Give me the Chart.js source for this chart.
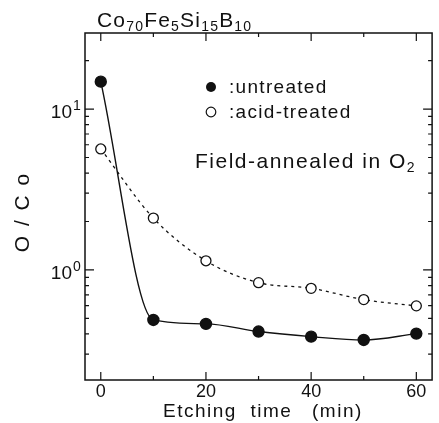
<!DOCTYPE html>
<html>
<head>
<meta charset="utf-8">
<script src="https://cdn.jsdelivr.net/npm/chart.js@4.4.0/dist/chart.umd.min.js"></script>
<style>
  html, body { margin: 0; padding: 0; background: #fff; }
  #wrap { width: 439px; height: 423px; position: relative; }
</style>
</head>
<body>
<div id="wrap"><canvas id="grafico"></canvas></div>
<script>
// values
const etchTimes = [0, 10, 20, 30, 40, 50, 60];
const untreated = [14.8, 0.489, 0.462, 0.414, 0.385, 0.367, 0.402];
const acidTreated = [5.65, 2.10, 1.14, 0.834, 0.769, 0.654, 0.598];
const xTickLabels = [0, 20, 40, 60];
const xMinorTicks = [10, 30, 50];
const yDecades = [0, 1];
const legendLabels = [':untreated', ':acid-treated'];

const ink = '#111';
const fontFam = '"Liberation Sans", Arial, sans-serif';

function pares(xs, ys) {
    return xs.map((x, i) => ({ x: x, y: ys[i] }));
}

// frame, ticks and all the text
const marco = {
    id: 'marco',
    afterDraw(chart) {
        const ctx = chart.ctx;
        const a = chart.chartArea;
        const sx = chart.scales.x;
        const sy = chart.scales.y;
        ctx.save();
        ctx.strokeStyle = ink;
        ctx.fillStyle = ink;
        ctx.lineWidth = 1.5;
        ctx.strokeRect(a.left, a.top, a.right - a.left, a.bottom - a.top);

        ctx.lineWidth = 1.2;
        ctx.beginPath();
        xTickLabels.concat(xMinorTicks).forEach(v => {
            const px = sx.getPixelForValue(v);
            const len = xTickLabels.includes(v) ? 8 : 4;
            ctx.moveTo(px, a.bottom); ctx.lineTo(px, a.bottom - len);
            ctx.moveTo(px, a.top); ctx.lineTo(px, a.top + len);
        });
        for (let d = -1; d <= 1; d++) {
            for (let m = 1; m <= 9; m++) {
                const v = m * Math.pow(10, d);
                if (v < sy.min || v > sy.max) continue;
                const py = sy.getPixelForValue(v);
                const len = m === 1 ? 9 : 4;
                ctx.moveTo(a.left, py); ctx.lineTo(a.left + len, py);
                ctx.moveTo(a.right, py); ctx.lineTo(a.right - len, py);
            }
        }
        ctx.stroke();

        // x tick labels
        ctx.font = '18px ' + fontFam;
        ctx.textAlign = 'center';
        ctx.textBaseline = 'alphabetic';
        xTickLabels.forEach(v => {
            ctx.fillText(String(v), sx.getPixelForValue(v), 397);
        });

        // y tick labels 10^n
        yDecades.forEach(d => {
            const py = sy.getPixelForValue(Math.pow(10, d));
            ctx.font = '19px ' + fontFam;
            ctx.textAlign = 'right';
            ctx.fillText('10', 72, py + 9);
            ctx.font = '14px ' + fontFam;
            ctx.textAlign = 'left';
            ctx.fillText(String(d), 73, py + 1);
        });

        ctx.letterSpacing = '1.2px';
        // title with subscripts
        const partes = [['Co', 0], ['70', 1], ['Fe', 0], ['5', 1], ['Si', 0], ['15', 1], ['B', 0], ['10', 1]];
        let tx = 97;
        ctx.textAlign = 'left';
        partes.forEach(p => {
            ctx.font = (p[1] ? '14px ' : '21px ') + fontFam;
            ctx.fillText(p[0], tx, p[1] ? 31 : 27);
            tx += ctx.measureText(p[0]).width;
        });

        // legend
        ctx.letterSpacing = '1.3px';
        ctx.font = '19px ' + fontFam;
        const ly = [87, 112];
        ctx.beginPath();
        ctx.arc(211, ly[0], 5, 0, Math.PI * 2);
        ctx.fill();
        ctx.beginPath();
        ctx.lineWidth = 1.2;
        ctx.arc(211, ly[1], 4.8, 0, Math.PI * 2);
        ctx.stroke();
        ctx.fillText(legendLabels[0], 229, ly[0] + 6);
        ctx.fillText(legendLabels[1], 229, ly[1] + 6);

        // annotation
        ctx.font = '21px ' + fontFam;
        ctx.letterSpacing = '1.5px';
        ctx.fillText('Field-annealed in O', 195, 168);
        const w = ctx.measureText('Field-annealed in O').width;
        ctx.font = '14px ' + fontFam;
        ctx.fillText('2', 195 + w, 172);

        // axis titles
        ctx.font = '19px ' + fontFam;
        ctx.letterSpacing = '1.5px';
        ctx.fillText('Etching  time', 163, 417);
        ctx.fillText('(min)', 312, 417);

        ctx.save();
        ctx.translate(23, 212);
        ctx.rotate(-Math.PI / 2);
        ctx.font = '21px ' + fontFam;
        ctx.letterSpacing = '2px';
        ctx.textAlign = 'center';
        ctx.textBaseline = 'middle';
        ctx.fillText('O / C o', 0, 0);
        ctx.restore();

        ctx.restore();
    }
};

new Chart(document.getElementById('grafico'), {
    type: 'line',
    data: {
        datasets: [{
            label: 'untreated',
            data: pares(etchTimes, untreated),
            borderColor: ink,
            borderWidth: 1.4,
            pointRadius: 5.5,
            pointBackgroundColor: ink,
            pointBorderColor: ink,
            cubicInterpolationMode: 'monotone',
            fill: false
        }, {
            label: 'acid-treated',
            data: pares(etchTimes, acidTreated),
            borderColor: ink,
            borderWidth: 1.3,
            borderDash: [3, 4],
            pointRadius: 5,
            pointBackgroundColor: '#fff',
            pointBorderColor: ink,
            pointBorderWidth: 1.3,
            cubicInterpolationMode: 'monotone',
            fill: false
        }]
    },
    options: {
        responsive: true,
        maintainAspectRatio: false,
        animation: false,
        layout: { padding: { left: 85, right: 2, top: 33, bottom: 43 } },
        plugins: { legend: { display: false }, tooltip: { enabled: false } },
        scales: {
            x: { type: 'linear', min: -3, max: 63, display: false },
            y: { type: 'logarithmic', min: 0.207, max: 29.7, display: false }
        }
    },
    plugins: [marco]
});
</script>
</body>
</html>
